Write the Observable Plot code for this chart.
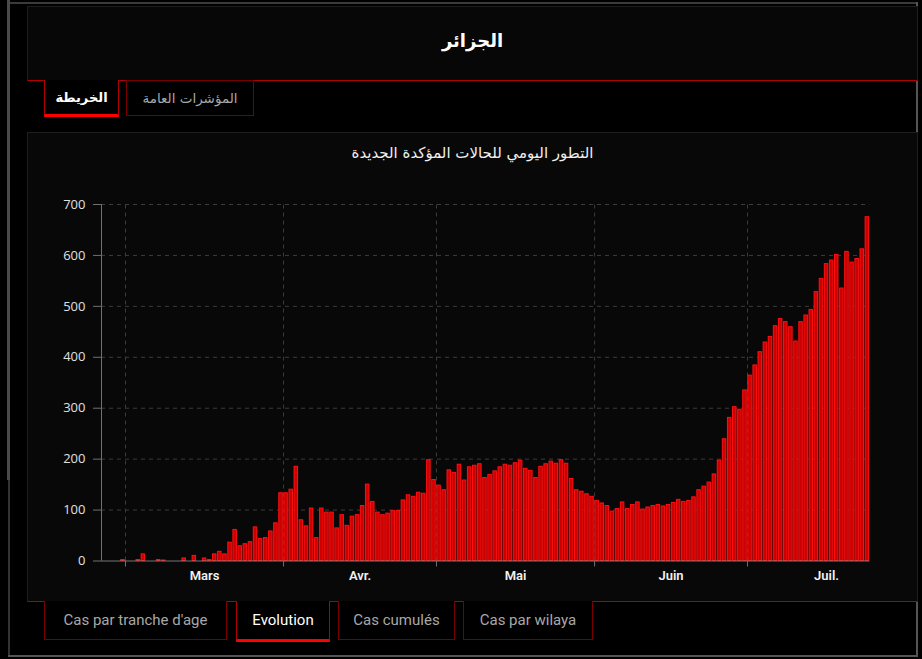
<!DOCTYPE html>
<html lang="ar">
<head>
<meta charset="utf-8">
<script src="https://cdn.jsdelivr.net/npm/d3@7"></script>
<script src="https://cdn.jsdelivr.net/npm/@observablehq/plot@0.6"></script>
<style>
  html, body { margin: 0; padding: 0; background: #000; width: 922px; height: 659px; overflow: hidden; }
  .abs { position: absolute; box-sizing: border-box; }
  .ar { font-family: "DejaVu Sans", "Noto Sans", sans-serif; direction: rtl; }
  .lat { font-family: Roboto, "Liberation Sans Narrow", sans-serif; }
  .tab { display: flex; align-items: center; justify-content: center; }
</style>
</head>
<body>
<!-- outer frame -->
<div class="abs" style="left:7px;top:0;width:3px;height:480px;background:#4a4a4a"></div>
<div class="abs" style="left:8px;top:480px;width:2px;height:177px;background:#333"></div>
<div class="abs" style="left:10px;top:2px;width:908px;height:2px;background:#3a3a3a"></div>
<div class="abs" style="left:916px;top:2px;width:2px;height:655px;background:#555"></div>
<div class="abs" style="left:8px;top:655px;width:910px;height:2px;background:#555"></div>

<!-- header -->
<div class="abs ar tab" style="left:27px;top:6px;width:891px;height:75px;background:#070707;border:1px solid #1e1e1e;border-bottom:1px solid #b00000;color:#fff;font-weight:bold;font-size:18px;padding-bottom:6px">الجزائر</div>

<!-- top tabs -->
<div class="abs ar tab" style="left:44px;top:80px;width:75px;height:37px;background:#000;border-left:1px solid #b00000;border-right:1px solid #b00000;border-bottom:3px solid #ff0000;color:#fff;font-weight:bold;font-size:13px">الخريطة</div>
<div class="abs ar tab" style="left:126px;top:80px;width:128px;height:36px;background:#000;border:1px solid #7a0000;color:#a8a8a8;font-size:13.5px">المؤشرات العامة</div>

<!-- chart panel -->
<div class="abs" style="left:27px;top:132px;width:891px;height:470px;background:#080808;border:1px solid #1e1e1e;border-bottom:1px solid #b00000"></div>
<div class="abs ar" style="left:27px;top:144px;width:891px;text-align:center;color:#f0f0f0;font-size:15px">التطور اليومي للحالات المؤكدة الجديدة</div>
<div id="chart" class="abs" style="left:28px;top:185px;width:890px;height:410px"></div>

<!-- bottom tabs -->
<div class="abs lat tab" style="left:44px;top:601px;width:183px;height:39px;background:#000;border:1px solid #7a0000;border-top:none;color:#a8a8a8;font-size:15px">Cas par tranche d'age</div>
<div class="abs lat tab" style="left:236px;top:601px;width:94px;height:41px;background:#000;border-left:1px solid #b00000;border-right:1px solid #b00000;border-bottom:3px solid #ff0000;color:#fff;font-size:15px">Evolution</div>
<div class="abs lat tab" style="left:338px;top:601px;width:117px;height:39px;background:#000;border:1px solid #7a0000;border-top:none;color:#a8a8a8;font-size:15px">Cas cumulés</div>
<div class="abs lat tab" style="left:463px;top:601px;width:130px;height:39px;background:#000;border:1px solid #7a0000;border-top:none;color:#a8a8a8;font-size:15px">Cas par wilaya</div>

<script>
// ---- data (daily new confirmed cases, Algeria 2020) ----
const firstDay = "2020-02-25";
const casesFeb = [0, 0, 0, 0, 2];  // Feb 25 – Feb 29
const casesMar = [0, 0, 2, 13, 0, 0, 2, 1, 0, 0, 0, 5, 0, 10, 0, 5, 2, 13, 18, 13,
                  36, 61, 29, 33, 37, 66, 43, 45, 58, 74, 133];
const casesApr = [133, 140, 185, 80, 68, 103, 45, 103, 95, 95, 64, 90, 69, 87, 90,
                  108, 150, 116, 95, 90, 93, 98, 98, 119, 129, 126, 134, 132, 198, 159];
const casesMay = [148, 139, 178, 173, 189, 158, 184, 187, 190, 163, 169, 176, 184, 189, 187,
                  192, 197, 181, 177, 163, 185, 190, 195, 191, 198, 191, 161, 139, 136, 131, 126];
const casesJun = [118, 113, 108, 97, 102, 115, 102, 110, 115, 101, 105, 108, 110, 107, 110,
                  114, 120, 116, 118, 125, 139, 146, 154, 170, 197, 239, 281, 302, 297, 335];
const casesJul = [364, 384, 410, 429, 440, 461, 475, 469, 459, 431, 469, 482, 493, 528, 554,
                  583, 590, 601, 535, 607, 586, 593, 612, 675];
const monthStarts = ["2020-03-01", "2020-04-01", "2020-05-01", "2020-06-01", "2020-07-01"];
const monthLabels = ["Mars", "Avr.", "Mai", "Juin", "Juil."];
const yTicks = [0, 100, 200, 300, 400, 500, 600, 700];

// ---- build table ----
const DAY = 864e5;
const t0 = Date.parse(firstDay + "T00:00:00Z");
const allCases = [...casesFeb, ...casesMar, ...casesApr, ...casesMay, ...casesJun, ...casesJul];
const rows = allCases.map((v, i) => ({d0: new Date(t0 + i * DAY), d1: new Date(t0 + (i + 1) * DAY), v}))
  .filter(d => d.v > 0);
const startDates = monthStarts.map(s => new Date(s + "T00:00:00Z"));
const midDates = startDates.map(d => {
  const next = Date.UTC(d.getUTCFullYear(), d.getUTCMonth() + 1, 1);
  return new Date((+d + next) / 2);
});
const labelByTime = new Map(midDates.map((d, i) => [+d, monthLabels[i]]));
const xStart = new Date(t0 + 0.29 * DAY);
const xEnd = new Date(t0 + allCases.length * DAY);

const chart = Plot.plot({
  width: 890,
  height: 410,
  marginLeft: 73,
  marginRight: 48.6,
  marginTop: 19,
  marginBottom: 34.5,
  style: {background: "transparent", color: "#e0e0e0", fontFamily: "'Open Sans', 'Noto Sans', sans-serif", fontSize: "13px", overflow: "visible"},
  x: {type: "utc", domain: [xStart, xEnd], axis: null},
  y: {domain: [0, 700], axis: null},
  marks: [
    Plot.ruleY(yTicks.filter(v => v > 0), {stroke: "#3c3c3c", strokeDasharray: "4,4"}),
    Plot.ruleX(startDates, {y1: 0, y2: 700, stroke: "#3c3c3c", strokeDasharray: "4,4"}),
    Plot.rectY(rows, {x1: "d0", x2: "d1", y: "v", fill: "#cc0000", stroke: "#ff1010", strokeWidth: 1, insetLeft: 0.8, insetRight: 0.8}),
    Plot.ruleX([xStart], {y1: 0, y2: 700, stroke: "#707070"}),
    Plot.ruleY([0], {stroke: "#8a8a8a", strokeOpacity: 0.85}),
    Plot.axisY({ticks: yTicks, label: null, tickSize: 8, tickPadding: 8, stroke: "#707070", fill: "#e0e0e0", fontSize: 13, tickFormat: d => String(d)}),
    Plot.axisX({ticks: startDates, label: null, tickSize: 6, tickFormat: () => "", stroke: "#707070"}),
    Plot.axisX({ticks: midDates, label: null, tickSize: 0, tickPadding: 10, tickFormat: d => labelByTime.get(+d),
      fill: "#f2f2f2", fontSize: 13, fontWeight: 600, fontFamily: "'Liberation Sans Narrow', Roboto, sans-serif"})
  ]
});
document.getElementById("chart").appendChild(chart);
</script>
</body>
</html>
